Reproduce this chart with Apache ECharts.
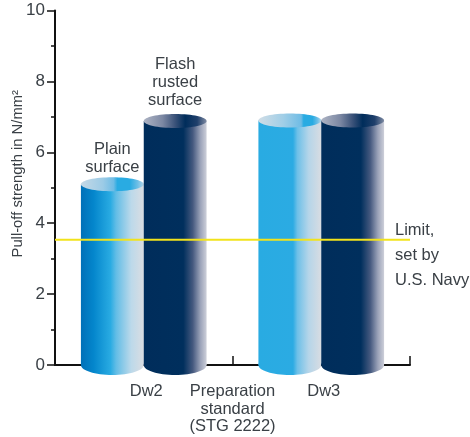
<!DOCTYPE html>
<html><head><meta charset="utf-8">
<style>html,body{margin:0;padding:0;background:#fff}#c{width:470px;height:437px}</style>
<script src="https://cdn.jsdelivr.net/npm/echarts@6/dist/echarts.min.js"></script>
</head><body><div id="c"></div>
<script>
const categories = ['Dw2', 'Dw3'];
const plainValues = [5.1, 6.9];
const flashValues = [6.88, 6.9];
const limitValue = 3.53;
const yTicks = [0, 2, 4, 6, 8, 10];
const plainLabel = 'Plain\nsurface';
const flashLabel = 'Flash\nrusted\nsurface';
const limitLabel = 'Limit,\nset by\nU.S. Navy';
const xAxisTitle = 'Preparation\nstandard\n(STG 2222)';
const yAxisTitle = 'Pull-off strength in N/mm²';

const FONT = '"Liberation Sans", Arial, sans-serif';
const TEXT = '#3a4046';
const grad = (stops) => ({type:'linear',x:0,y:0,x2:1,y2:0,colorStops:stops.map(s=>({offset:s[0],color:s[1]}))});
const darkBody = grad([[0,'#002D5B'],[0.63,'#002F5D'],[0.78,'#45597F'],[0.9,'#9AA2B8'],[1,'#CDCFD9']]);
const darkTop = grad([[0,'#AEB4C4'],[0.3,'#7C88A3'],[0.5,'#3A5279'],[0.66,'#002D5B'],[0.85,'#1F3F6B'],[1,'#7F8BA3']]);
const bodies = {
  plain: [
    grad([[0,'#0070B8'],[0.2,'#0486CC'],[0.47,'#29ABE2'],[0.56,'#62BDE6'],[0.8,'#BCD9EA'],[1,'#DADDE2']]),
    grad([[0,'#29ABE2'],[0.55,'#2BABE3'],[0.62,'#6DC0E8'],[0.8,'#B5D5E9'],[1,'#D8DCE2']])
  ],
  dark: [darkBody, darkBody]
};
const tops = {
  plain: [
    grad([[0,'#C4D8E6'],[0.35,'#9CCBE6'],[0.52,'#6FBCE5'],[0.58,'#29ABE2'],[0.78,'#29ABE2'],[0.9,'#6CBEE6'],[1,'#B5D6E8']]),
    grad([[0,'#D0DDE6'],[0.4,'#A0CEE7'],[0.68,'#6FBCE5'],[0.72,'#29ABE2'],[0.86,'#29ABE2'],[0.94,'#6CBEE6'],[1,'#B5D6E8']])
  ],
  dark: [darkTop, darkTop]
};
function cylinder(kind, side, label, gap) {
  return function (params, api) {
    const idx = api.value(0);
    const c0 = api.coord([idx, 0]);
    const c1 = api.coord([idx, api.value(1)]);
    const band = api.size([1, 0])[0];
    const w = band * 0.354;
    const x = side < 0 ? c0[0] - w : c0[0];
    const ry = 7;
    const children = [
      {type:'ellipse',shape:{cx:x+w/2,cy:c0[1],rx:w/2,ry:10},style:{fill:bodies[kind][idx]}},
      {type:'rect',shape:{x:x,y:c1[1],width:w,height:c0[1]-c1[1]},style:{fill:bodies[kind][idx]}},
      {type:'ellipse',shape:{cx:x+w/2,cy:c1[1],rx:w/2,ry:ry},style:{fill:tops[kind][idx]}}
    ];
    if (idx === 0) {
      children.push({type:'text',x:x+w/2,y:c1[1]-gap,style:{
        text:label,font:'16.5px '+FONT,fill:TEXT,textAlign:'center',textVerticalAlign:'bottom',lineHeight:18}});
    }
    return {type:'group',children};
  };
}
function limitLine(params, api) {
  const p = api.coord([0, api.value(1)]);
  const band = api.size([1, 0])[0];
  const left = p[0] - band / 2, right = p[0] + band * 1.5;
  return {type:'group',children:[
    {type:'line',shape:{x1:left,y1:p[1],x2:right,y2:p[1]},style:{stroke:'#F2E31B',lineWidth:2}},
    {type:'text',x:right-15,y:p[1]-22,style:{text:limitLabel,font:'16.5px '+FONT,fill:TEXT,textAlign:'left',textVerticalAlign:'top',lineHeight:25}}
  ]};
}
const chart = echarts.init(document.getElementById('c'), null, {renderer:'canvas'});
chart.setOption({
  animation:false,
  backgroundColor:'#fff',
  grid:{left:55,right:60,top:10.5,bottom:72,outerBoundsMode:'none'},
  xAxis:{type:'category',data:categories,
    axisLine:{lineStyle:{color:'#111',width:2}},
    axisTick:{show:true,inside:true,length:9,alignWithLabel:false,lineStyle:{color:'#111',width:1.5}},
    axisLabel:{fontFamily:FONT,fontSize:16.5,color:TEXT,margin:18,lineHeight:17,padding:[0,0,0,5]},
    name:xAxisTitle,nameLocation:'middle',nameGap:18,nameMoveOverlap:false,
    nameTextStyle:{fontFamily:FONT,fontSize:16.5,color:TEXT,lineHeight:17.5}},
  yAxis:{type:'value',min:yTicks[0],max:yTicks[yTicks.length-1],interval:2,
    axisLine:{show:true,lineStyle:{color:'#111',width:2}},
    axisTick:{show:true,length:8,lineStyle:{color:'#111',width:1.5}},
    minorTick:{show:true,splitNumber:2,length:4,lineStyle:{color:'#111',width:1.5}},
    splitLine:{show:false},minorSplitLine:{show:false},
    axisLabel:{fontFamily:FONT,fontSize:17,color:TEXT,margin:10},
    name:yAxisTitle,nameLocation:'middle',nameGap:30,nameRotate:90,nameMoveOverlap:false,
    nameTextStyle:{fontFamily:FONT,fontSize:14.8,color:TEXT,padding:[0,0,0,28]}},
  series:[
    {type:'custom',name:'Plain surface',renderItem:cylinder('plain',-1,plainLabel,8),
      encode:{x:0,y:1},data:plainValues.map((v,i)=>[i,v]),clip:false,z:3},
    {type:'custom',name:'Flash rusted surface',renderItem:cylinder('dark',1,flashLabel,12),
      encode:{x:0,y:1},data:flashValues.map((v,i)=>[i,v]),clip:false,z:4},
    {type:'custom',name:'Limit',renderItem:limitLine,
      encode:{x:0,y:1},data:[[0,limitValue]],clip:false,z:5}
  ]
});
</script></body></html>
